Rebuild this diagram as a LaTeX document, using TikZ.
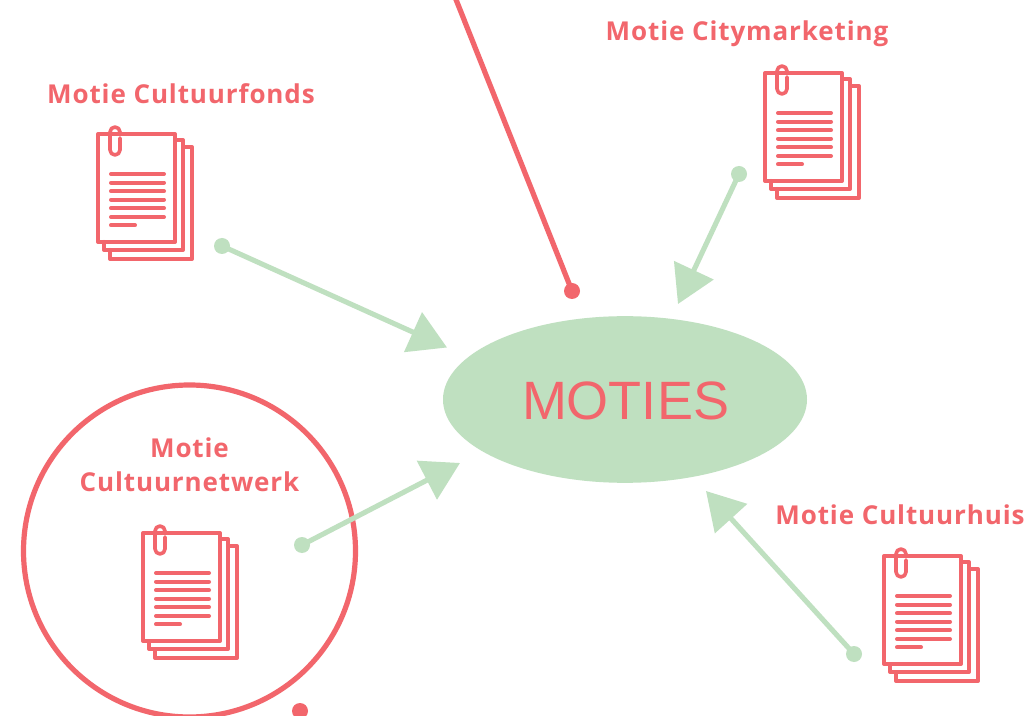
\documentclass[tikz,border=0pt]{standalone}
\usepackage{fontspec}
\setmainfont{Open Sans}[LetterSpace=3.4,Ligatures=NoCommon]
\newfontfamily\titlefont{Liberation Sans}
\usetikzlibrary{arrows.meta,shapes.geometric}
\definecolor{motred}{HTML}{F2666C}
\definecolor{motgreen}{HTML}{BFE0C0}
\tikzset{
  x=0.75pt,y=-0.75pt,
  iconline/.style={draw=motred,line width=3pt,line join=round,line cap=round},
  label/.style={text=motred,font=\fontsize{19.5}{25.5}\selectfont\bfseries,align=center,inner sep=0pt},
  conn/.style={draw=motgreen,line width=3.8pt,-{Triangle[length=28pt,width=32pt]}},
  gdot/.style={circle,fill=motgreen,minimum size=12pt,inner sep=0pt},
  rdot/.style={circle,fill=motred,minimum size=12pt,inner sep=0pt},
  docicon/.pic={
    \draw[iconline] (78,7) -- (86,7) -- (86,117) -- (7,117) -- (7,109);
    \draw[iconline] (86,14) -- (95,14) -- (95,126) -- (13,126) -- (13,117);
    \draw[iconline] (1,1) rectangle (78,109);
    \foreach \yy in {41,49.7,58.3,66.7,75.3,84}
      \draw[iconline] (14,\yy) -- (67,\yy);
    \draw[iconline] (14,92.3) -- (38,92.3);
    \draw[iconline,line width=2.7pt] (23,1) -- (23,-1) arc[start angle=0,end angle=180,x radius=5,y radius=-5] -- (13,17) arc[start angle=180,end angle=360,x radius=5,y radius=-5] -- (23,5);
  }
}
\begin{document}
\begin{tikzpicture}
\useasboundingbox (0,0) rectangle (1028,716);
\fill[white] (0,0) rectangle (1028,716);
\begin{scope}
\clip (0,0) rectangle (1028,716);
\node[draw=motred,line width=3.9pt,circle,minimum size=249pt,inner sep=0pt] (ring) at (189.5,551) {};
\node[rdot] (rdotb) at (300,711) {};
\coordinate (topend) at (453,-8);
\node[rdot] (rdott) at (572,291) {};
\draw[motred,line width=3.9pt] (topend) -- (rdott.center);
\end{scope}
\node[ellipse,fill=motgreen,minimum width=273pt,minimum height=125pt,inner sep=0pt] (moties) at (625,399.5) {};
\node[text=motred,font=\titlefont\fontsize{40.5}{48}\selectfont,inner sep=0pt] (motiestext) at (625.5,400.5) {MOTIES};
\pic at (97,133) {docicon};
\pic at (764,72) {docicon};
\pic at (142,532) {docicon};
\pic at (883,555) {docicon};
\node[label,anchor=base] (l1) at (181,104) {Motie Cultuurfonds};
\node[label,anchor=base] (l2) at (747,41) {Motie Citymarketing};
\node[label] (l3) at (189.5,465) {Motie\\Cultuurnetwerk};
\node[label,anchor=base] (l4) at (900,524) {Motie Cultuurhuis};
\node[gdot] (g1) at (222,246) {};
\node[gdot] (g2) at (739,174) {};
\node[gdot] (g3) at (302,545) {};
\node[gdot] (g4) at (854,654) {};
\coordinate (t1) at (447,347.5);
\coordinate (t2) at (678,304);
\coordinate (t3) at (460,463);
\coordinate (t4) at (706,491);
\draw[conn] (g1.center) -- (t1);
\draw[conn] (g2.center) -- (t2);
\draw[conn] (g3.center) -- (t3);
\draw[conn] (g4.center) -- (t4);
\end{tikzpicture}
\end{document}
